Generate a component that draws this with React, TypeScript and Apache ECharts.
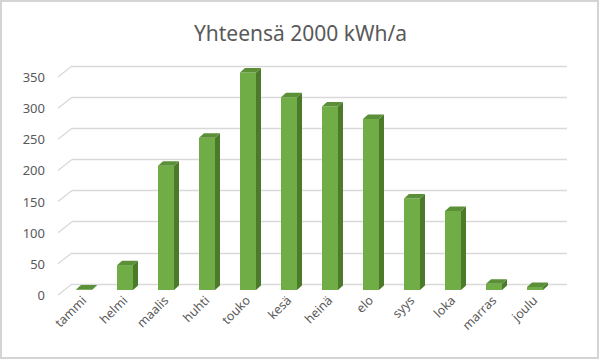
import React, { useEffect, useRef } from "react";
import * as echarts from "echarts";

const months = ["tammi", "helmi", "maalis", "huhti", "touko", "kesä", "heinä", "elo", "syys", "loka", "marras", "joulu"];
const values = [1, 40, 200, 245, 350, 310, 295, 275, 147, 127, 10, 5];
const ticks = [0, 50, 100, 150, 200, 250, 300, 350];
const title = "Yhteensä 2000 kWh/a";

const TXT = "#595959";
const GRID = "#d9d9d9";
const FONT = "Noto Sans";

export default function App() {
  const ref = useRef<HTMLDivElement>(null);
  useEffect(() => {
    if (!ref.current) return;
    const chart = echarts.init(ref.current, null, { renderer: "svg" });
    const DX = 5, DY = 4.5;
    chart.setOption({
      animation: false,
      backgroundColor: "#ffffff",
      title: {
        text: title,
        left: "center",
        top: 17,
        textStyle: { fontFamily: FONT, fontSize: 21, fontWeight: "normal", color: TXT },
      },
      graphic: [
        { type: "rect", shape: { x: 1, y: 1, width: 597, height: 357 }, style: { fill: "none", stroke: "#d4d4d4", lineWidth: 2 }, silent: true },
      ],
      grid: [
        { left: 72, right: 34, top: 66, bottom: 77 },
        { left: 63.5, right: 45.5, top: 72.4, bottom: 71 },
        { left: 58, right: 48, top: 77, bottom: 66 },
      ],
      xAxis: [
        { gridIndex: 0, type: "value", min: 0, max: 1, show: false },
        {
          gridIndex: 1,
          type: "category",
          data: months,
          axisLine: { show: false },
          axisTick: { show: false },
          axisLabel: { rotate: 45, margin: 8, fontFamily: FONT, fontSize: 12.5, color: TXT, interval: 0 },
        },
        { gridIndex: 2, type: "value", min: 0, max: 1, show: false },
      ],
      yAxis: [
        {
          gridIndex: 0,
          type: "value",
          min: 0,
          max: 350,
          interval: 50,
          axisLine: { show: false },
          axisTick: { show: false },
          axisLabel: { show: false },
          splitLine: { lineStyle: { color: GRID, width: 1.3 } },
        },
        { gridIndex: 1, type: "value", min: 0, max: 350, interval: 50, show: false, splitLine: { show: false } },
        {
          gridIndex: 2,
          type: "value",
          min: 0,
          max: 350,
          interval: 50,
          axisLine: { show: false },
          axisTick: { show: false },
          splitLine: { show: false },
          axisLabel: { margin: 13, fontFamily: FONT, fontSize: 13, color: TXT },
        },
      ],
      series: [
        {
          type: "custom",
          xAxisIndex: 2,
          yAxisIndex: 2,
          data: ticks.map((t) => [0, t]),
          renderItem: (params: any, api: any) => {
            const p = api.coord([0, api.value(1)]);
            const x0 = params.coordSys.x;
            return {
              type: "line",
              shape: { x1: x0, y1: p[1], x2: x0 + 14, y2: p[1] - 11 },
              style: { stroke: GRID, lineWidth: 1.3 },
            };
          },
          silent: true,
        },
        {
          type: "custom",
          xAxisIndex: 1,
          yAxisIndex: 1,
          data: values.map((v, i) => [i, v]),
          renderItem: (params: any, api: any) => {
            const top = api.coord([api.value(0), api.value(1)]);
            const base = api.coord([api.value(0), 0]);
            const cx = top[0];
            const w = 8;
            const ty = top[1];
            const by = base[1];
            return {
              type: "group",
              children: [
                {
                  type: "polygon",
                  shape: { points: [[cx + w, ty], [cx + w + DX, ty - DY], [cx + w + DX, by - DY], [cx + w, by]] },
                  style: { fill: "#4b7a2b" },
                },
                {
                  type: "rect",
                  shape: { x: cx - w, y: ty, width: 2 * w, height: Math.max(by - ty, 0) },
                  style: { fill: "#70ad47" },
                },
                {
                  type: "polygon",
                  shape: { points: [[cx - w, ty], [cx - w + DX, ty - DY], [cx + w + DX, ty - DY], [cx + w, ty]] },
                  style: { fill: "#5b8f38" },
                },
              ],
            };
          },
        },
      ],
    });
    return () => chart.dispose();
  }, []);
  return (
    <div
      ref={ref}
      style={{ position: "absolute", left: 0, top: 0, width: 601, height: 361 }}
    />
  );
}
